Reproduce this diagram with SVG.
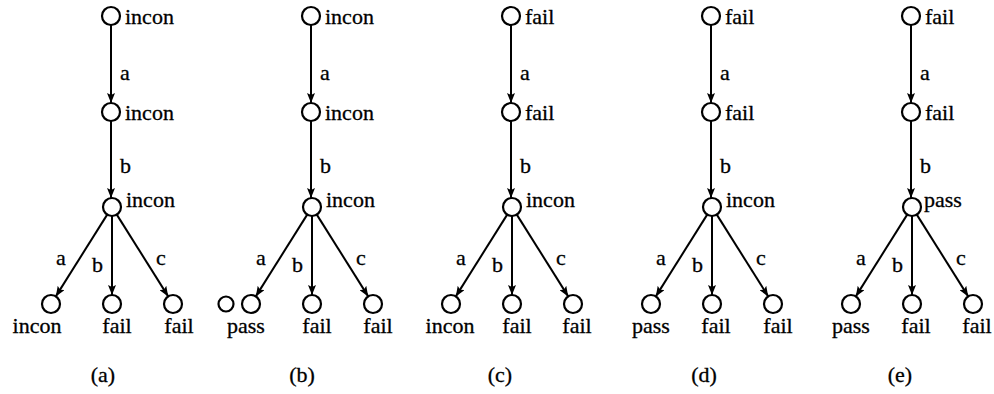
<svg xmlns="http://www.w3.org/2000/svg" width="994" height="394" viewBox="0 0 994 394" font-family="'Liberation Serif', 'DejaVu Serif', serif">
<style>
.nd{fill:#fff;stroke:#000;stroke-width:2.2}
.t{font-family:'Liberation Serif','DejaVu Serif',serif;font-size:22px;fill:#000;stroke:#000;stroke-width:0.3}
.m{text-anchor:middle}
.e{stroke:#000;stroke-width:2;fill:none;marker-end:url(#ah)}
</style>
<defs>
<marker id="ah" viewBox="0 0 10 8" refX="10" refY="4" markerWidth="10" markerHeight="8" orient="auto" markerUnits="userSpaceOnUse">
<path d="M0,0 L10,4 L0,8 L2,4 z" fill="#000"/>
</marker>
</defs>
<rect width="994" height="394" fill="#fff"/>
<g id="connectors">
<line class="e" x1="111" y1="25" x2="111" y2="103"/>
<line class="e" x1="111" y1="121" x2="111" y2="198"/>
<line class="e" x1="107.2" y1="214.6" x2="55.8" y2="296.4"/>
<line class="e" x1="112" y1="216" x2="112" y2="295"/>
<line class="e" x1="116.8" y1="214.6" x2="168.2" y2="296.4"/>
<line class="e" x1="311" y1="25" x2="311" y2="103"/>
<line class="e" x1="311" y1="121" x2="311" y2="198"/>
<line class="e" x1="307.2" y1="214.6" x2="255.8" y2="296.4"/>
<line class="e" x1="312" y1="216" x2="312" y2="295"/>
<line class="e" x1="316.8" y1="214.6" x2="368.2" y2="296.4"/>
<line class="e" x1="511" y1="25" x2="511" y2="103"/>
<line class="e" x1="511" y1="121" x2="511" y2="198"/>
<line class="e" x1="507.2" y1="214.6" x2="455.8" y2="296.4"/>
<line class="e" x1="512" y1="216" x2="512" y2="295"/>
<line class="e" x1="516.8" y1="214.6" x2="568.2" y2="296.4"/>
<line class="e" x1="711" y1="25" x2="711" y2="103"/>
<line class="e" x1="711" y1="121" x2="711" y2="198"/>
<line class="e" x1="707.2" y1="214.6" x2="655.8" y2="296.4"/>
<line class="e" x1="712" y1="216" x2="712" y2="295"/>
<line class="e" x1="716.8" y1="214.6" x2="768.2" y2="296.4"/>
<line class="e" x1="911" y1="25" x2="911" y2="103"/>
<line class="e" x1="911" y1="121" x2="911" y2="198"/>
<line class="e" x1="907.2" y1="214.6" x2="855.8" y2="296.4"/>
<line class="e" x1="912" y1="216" x2="912" y2="295"/>
<line class="e" x1="916.8" y1="214.6" x2="968.2" y2="296.4"/>
</g>
<g id="edge-labels" class="t">
<text x="120" y="80">a</text><text x="120" y="173">b</text><text x="56" y="265">a</text><text x="92" y="272">b</text><text x="156" y="265">c</text>
<text x="320" y="80">a</text><text x="320" y="173">b</text><text x="256" y="265">a</text><text x="292" y="272">b</text><text x="356" y="265">c</text>
<text x="520" y="80">a</text><text x="520" y="173">b</text><text x="456" y="265">a</text><text x="492" y="272">b</text><text x="556" y="265">c</text>
<text x="720" y="80">a</text><text x="720" y="173">b</text><text x="656" y="265">a</text><text x="692" y="272">b</text><text x="756" y="265">c</text>
<text x="920" y="80">a</text><text x="920" y="173">b</text><text x="856" y="265">a</text><text x="892" y="272">b</text><text x="956" y="265">c</text>
</g>
<g id="a-n1"><circle class="nd" cx="111" cy="16" r="9"/><text class="t" x="125" y="24">incon</text></g>
<g id="a-n2"><circle class="nd" cx="111" cy="112" r="9"/><text class="t" x="125" y="120">incon</text></g>
<g id="a-n3"><circle class="nd" cx="112" cy="207" r="9"/><text class="t" x="126" y="207">incon</text></g>
<g id="a-l1"><circle class="nd" cx="51" cy="304" r="9"/><text class="t m" x="37" y="333">incon</text></g>
<g id="a-l2"><circle class="nd" cx="112" cy="304" r="9"/><text class="t m" x="117" y="333">fail</text></g>
<g id="a-l3"><circle class="nd" cx="173" cy="304" r="9"/><text class="t m" x="179" y="333">fail</text></g>
<g id="a-cap"><text class="t m" x="103" y="382">(a)</text></g>
<g id="b-n1"><circle class="nd" cx="311" cy="16" r="9"/><text class="t" x="325" y="24">incon</text></g>
<g id="b-n2"><circle class="nd" cx="311" cy="112" r="9"/><text class="t" x="325" y="120">incon</text></g>
<g id="b-n3"><circle class="nd" cx="312" cy="207" r="9"/><text class="t" x="326" y="207">incon</text></g>
<g id="b-x"><circle class="nd" cx="226" cy="304" r="7.5"/></g>
<g id="b-l1"><circle class="nd" cx="251" cy="304" r="9"/><text class="t m" x="246" y="333">pass</text></g>
<g id="b-l2"><circle class="nd" cx="312" cy="304" r="9"/><text class="t m" x="317" y="333">fail</text></g>
<g id="b-l3"><circle class="nd" cx="373" cy="304" r="9"/><text class="t m" x="378" y="333">fail</text></g>
<g id="b-cap"><text class="t m" x="302" y="382">(b)</text></g>
<g id="c-n1"><circle class="nd" cx="511" cy="16" r="9"/><text class="t" x="525" y="24">fail</text></g>
<g id="c-n2"><circle class="nd" cx="511" cy="112" r="9"/><text class="t" x="525" y="120">fail</text></g>
<g id="c-n3"><circle class="nd" cx="512" cy="207" r="9"/><text class="t" x="526" y="207">incon</text></g>
<g id="c-l1"><circle class="nd" cx="451" cy="304" r="9"/><text class="t m" x="450" y="333">incon</text></g>
<g id="c-l2"><circle class="nd" cx="512" cy="304" r="9"/><text class="t m" x="517" y="333">fail</text></g>
<g id="c-l3"><circle class="nd" cx="573" cy="304" r="9"/><text class="t m" x="577" y="333">fail</text></g>
<g id="c-cap"><text class="t m" x="500" y="382">(c)</text></g>
<g id="d-n1"><circle class="nd" cx="711" cy="16" r="9"/><text class="t" x="725" y="24">fail</text></g>
<g id="d-n2"><circle class="nd" cx="711" cy="112" r="9"/><text class="t" x="725" y="120">fail</text></g>
<g id="d-n3"><circle class="nd" cx="712" cy="207" r="9"/><text class="t" x="726" y="207">incon</text></g>
<g id="d-l1"><circle class="nd" cx="651" cy="304" r="9"/><text class="t m" x="651" y="333">pass</text></g>
<g id="d-l2"><circle class="nd" cx="712" cy="304" r="9"/><text class="t m" x="716" y="333">fail</text></g>
<g id="d-l3"><circle class="nd" cx="773" cy="304" r="9"/><text class="t m" x="778" y="333">fail</text></g>
<g id="d-cap"><text class="t m" x="704" y="382">(d)</text></g>
<g id="e-n1"><circle class="nd" cx="911" cy="16" r="9"/><text class="t" x="925" y="24">fail</text></g>
<g id="e-n2"><circle class="nd" cx="911" cy="112" r="9"/><text class="t" x="925" y="120">fail</text></g>
<g id="e-n3"><circle class="nd" cx="912" cy="207" r="9"/><text class="t" x="924" y="207">pass</text></g>
<g id="e-l1"><circle class="nd" cx="851" cy="304" r="9"/><text class="t m" x="851" y="333">pass</text></g>
<g id="e-l2"><circle class="nd" cx="912" cy="304" r="9"/><text class="t m" x="916" y="333">fail</text></g>
<g id="e-l3"><circle class="nd" cx="973" cy="304" r="9"/><text class="t m" x="977" y="333">fail</text></g>
<g id="e-cap"><text class="t m" x="900" y="382">(e)</text></g>
</svg>
